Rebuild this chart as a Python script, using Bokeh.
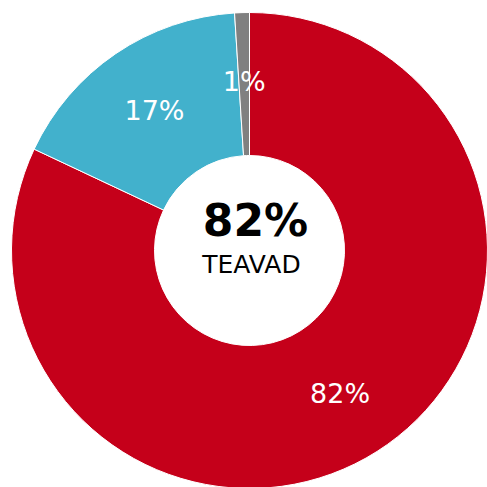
import numpy as np
from bokeh.plotting import figure
from bokeh.models import Range1d, ColumnDataSource
from bokeh.core.properties import value
from bokeh.embed import file_html
from bokeh.resources import INLINE

categories = ["TEAVAD", "EI TEA", "MUU"]
shares = [82, 17, 1]
labels = ["82%", "17%", "1%"]
colors = ["#C5001A", "#42B1CC", "#808080"]
center_value = "82%"
center_label = "TEAVAD"

total = float(sum(shares))
frac = np.array(shares) / total
cum = np.concatenate([[0], np.cumsum(frac)])
start = np.pi / 2 - cum[:-1] * 2 * np.pi
end = np.pi / 2 - cum[1:] * 2 * np.pi
mid = (start + end) / 2
R_out, R_in, R_lab = 238, 95, 169

src = ColumnDataSource(dict(start=start, end=end, color=colors,
                            lx=R_lab * np.cos(mid), ly=R_lab * np.sin(mid),
                            label=labels))

p = figure(width=487, height=487, output_backend="svg", toolbar_location=None,
           x_range=Range1d(-249, 238), y_range=Range1d(-237, 250),
           min_border=0, background_fill_color="white")
p.axis.visible = False
p.grid.visible = False
p.outline_line_color = None

p.annular_wedge(x=0, y=0, inner_radius=R_in, outer_radius=R_out,
                start_angle="start", end_angle="end", direction="clock",
                fill_color="color", line_color="white", line_width=1, source=src)

p.text(x="lx", y="ly", text="label", source=src, text_color="white",
       text_font=value("DejaVu Sans"), text_font_size="27px",
       text_align="center", text_baseline="middle")

p.text(x=[6], y=[30], text=[center_value], text_color="black",
       text_font=value("DejaVu Sans"), text_font_size="44px", text_font_style="bold",
       text_align="center", text_baseline="middle")
p.text(x=[2], y=[-14], text=[center_label], text_color="black",
       text_font=value("DejaVu Sans"), text_font_size="25px",
       text_align="center", text_baseline="middle")

open("out.html", "w").write(file_html(p, INLINE))
